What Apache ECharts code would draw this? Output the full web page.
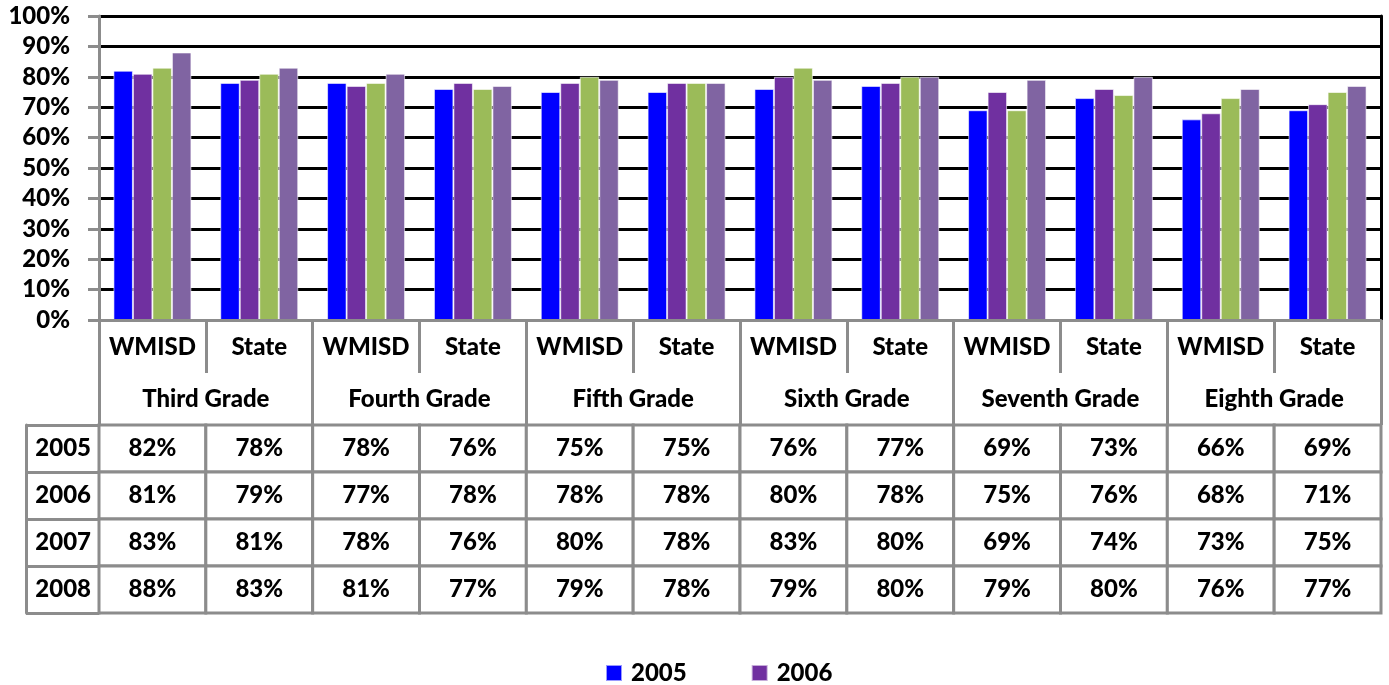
<!DOCTYPE html>
<html>
<head>
<meta charset="utf-8">
<title>WMISD vs State</title>
<script src="https://cdn.jsdelivr.net/npm/echarts@6/dist/echarts.min.js"></script>
<style>
  html, body { margin: 0; padding: 0; background: #fff; }
  #main { width: 1389px; height: 685px; }
</style>
</head>
<body>
<div id="main"></div>
<script>
// categories
var places = ['WMISD', 'State', 'WMISD', 'State', 'WMISD', 'State', 'WMISD', 'State', 'WMISD', 'State', 'WMISD', 'State'];
var grades = ['Third Grade', 'Fourth Grade', 'Fifth Grade', 'Sixth Grade', 'Seventh Grade', 'Eighth Grade'];
var years = ['2005', '2006', '2007', '2008'];

// series values (percent)
var y2005 = [82, 78, 78, 76, 75, 75, 76, 77, 69, 73, 66, 69];
var y2006 = [81, 79, 77, 78, 78, 78, 80, 78, 75, 76, 68, 71];
var y2007 = [83, 81, 78, 76, 80, 78, 83, 80, 69, 74, 73, 75];
var y2008 = [88, 83, 81, 77, 79, 78, 79, 80, 79, 80, 76, 77];

var colors = ['#0000ff', '#7030a0', '#9bbb59', '#8064a2'];
var gray = '#8c8c8c';
var font = 'Lato';
var weight = 900;

var rows = [y2005, y2006, y2007, y2008];
// table cells: [category index, year index, value]
var cells = [];
rows.forEach(function (r, yi) {
  r.forEach(function (v, ci) { cells.push([ci, yi, v]); });
});

var myChart = echarts.init(document.getElementById('main'));

var barSeries = rows.map(function (r, i) {
  return {
    name: years[i],
    type: 'bar',
    xAxisIndex: 0,
    yAxisIndex: 0,
    data: r,
    barGap: '0%',
    barCategoryGap: '27%',
    itemStyle: { color: colors[i], borderColor: 'rgba(255,255,255,0.6)', borderWidth: 1 }
  };
});

var label = { color: '#000', fontFamily: font, fontWeight: weight, fontSize: 24 };

var option = {
  animation: false,
  backgroundColor: '#fff',
  textStyle: { fontFamily: font },
  legend: {
    data: ['2005', '2006'],
    left: 600,
    top: 656,
    icon: 'rect',
    itemWidth: 16,
    itemHeight: 16,
    itemGap: 64,
    textStyle: { fontFamily: font, fontWeight: weight, fontSize: 24, color: '#000', padding: [0, 0, 0, 4] }
  },
  grid: [
    { left: 99, right: 8, top: 16, height: 304 },
    { left: 99, right: 8, top: 425, height: 188 }
  ],
  xAxis: [
    {
      type: 'category', gridIndex: 0, position: 'bottom', data: places, z: 3,
      axisLine: { lineStyle: { color: gray, width: 3 } },
      axisTick: { show: true, length: 53, interval: 0, lineStyle: { color: gray, width: 3 } },
      axisLabel: Object.assign({ interval: 0, margin: 15 }, label),
      splitLine: { show: false }
    },
    {
      type: 'category', gridIndex: 0, position: 'bottom', data: grades, z: 3,
      axisLine: { show: false },
      axisTick: { show: true, length: 105, interval: 0, lineStyle: { color: gray, width: 3 } },
      axisLabel: Object.assign({ interval: 0, margin: 67 }, label),
      splitLine: { show: false }
    },
    {
      type: 'category', gridIndex: 1, data: places, show: false
    }
  ],
  yAxis: [
    {
      type: 'value', gridIndex: 0, min: 0, max: 100, interval: 10,
      axisLine: { show: true, lineStyle: { color: gray, width: 3 } },
      axisTick: { show: true, length: 11, lineStyle: { color: gray, width: 3 } },
      axisLabel: Object.assign({ formatter: '{value}%', margin: 29 }, label),
      splitLine: { show: true, lineStyle: { color: '#000', width: 3 } }
    },
    {
      type: 'value', gridIndex: 0, min: 0, max: 100, position: 'right',
      axisLine: { show: true, lineStyle: { color: '#000', width: 3 } },
      axisTick: { show: false }, axisLabel: { show: false }, splitLine: { show: false }
    },
    {
      type: 'category', gridIndex: 1, data: years, inverse: true, position: 'left',
      axisLine: { show: true, lineStyle: { color: gray, width: 3 } },
      axisTick: { show: true, length: 73, lineStyle: { color: gray, width: 3 } },
      axisLabel: Object.assign({ margin: 8 }, label),
      splitLine: { show: false }
    },
    {
      type: 'category', gridIndex: 1, data: years, inverse: true, position: 'left', offset: 73,
      axisLine: { show: true, lineStyle: { color: gray, width: 3 } },
      axisTick: { show: false }, axisLabel: { show: false }, splitLine: { show: false }
    }
  ],
  series: barSeries.concat([
    {
      type: 'custom',
      xAxisIndex: 2,
      yAxisIndex: 2,
      data: cells,
      renderItem: function (params, api) {
        var c = api.coord([api.value(0), api.value(1)]);
        var s = api.size([1, 1]);
        return {
          type: 'group',
          children: [
            {
              type: 'rect',
              shape: { x: c[0] - s[0] / 2, y: c[1] - s[1] / 2, width: s[0], height: s[1] },
              style: { fill: '#fff', stroke: gray, lineWidth: 3 }
            },
            {
              type: 'text',
              style: {
                text: api.value(2) + '%',
                x: c[0], y: c[1],
                align: 'center', verticalAlign: 'middle',
                fontFamily: font, fontWeight: weight, fontSize: 24, fill: '#000'
              }
            }
          ]
        };
      }
    }
  ])
};

myChart.setOption(option);
</script>
</body>
</html>
